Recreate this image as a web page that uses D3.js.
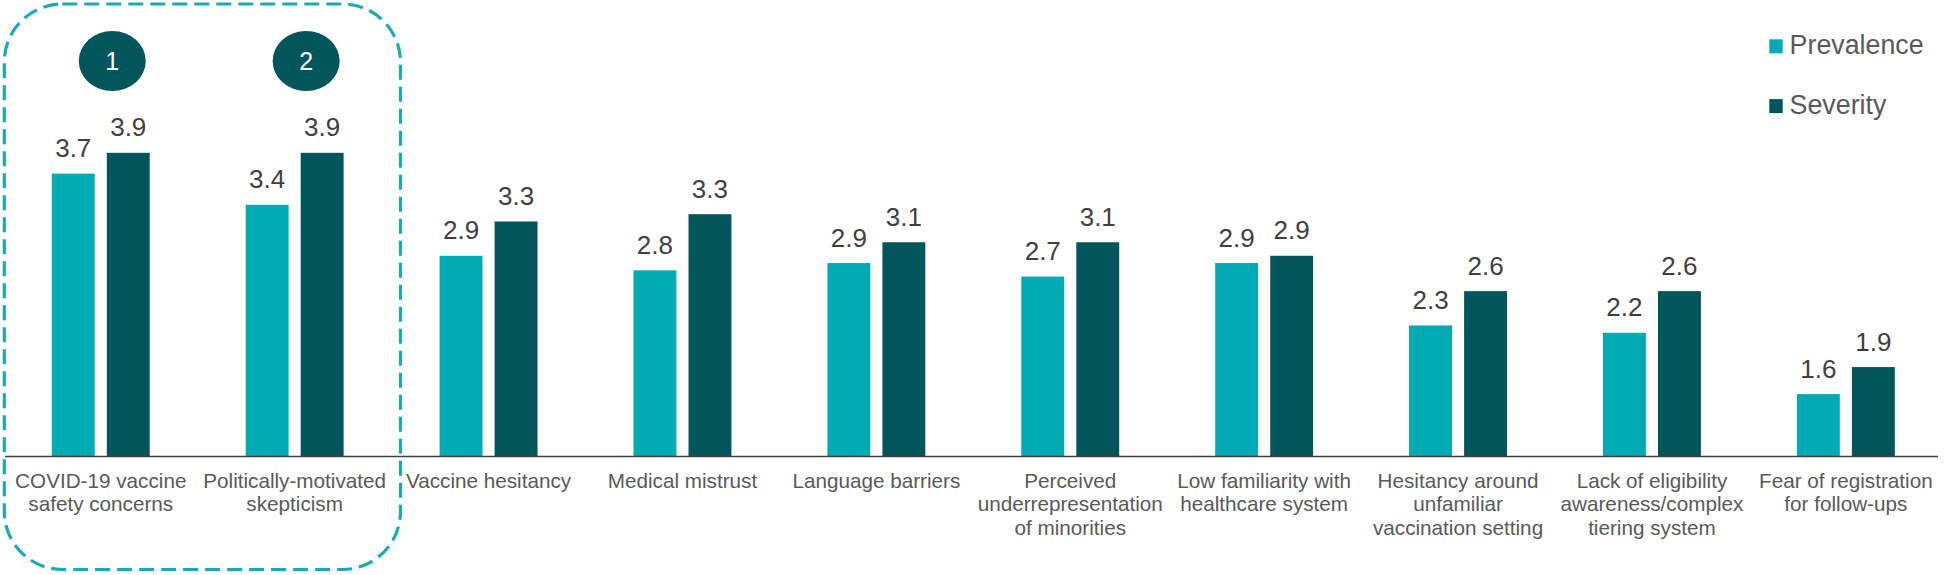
<!DOCTYPE html>
<html>
<head>
<meta charset="utf-8">
<script src="https://cdn.jsdelivr.net/npm/d3@7"></script>
<style>
  html, body { margin: 0; padding: 0; background: #fff; }
  svg { display: block; }
  text { font-family: "Liberation Sans", Arial, sans-serif; }
</style>
</head>
<body>
<svg id="chart" width="1944" height="575"></svg>
<script>
const categories = [
  ["COVID-19 vaccine", "safety concerns"],
  ["Politically-motivated", "skepticism"],
  ["Vaccine hesitancy"],
  ["Medical mistrust"],
  ["Language barriers"],
  ["Perceived", "underrepresentation", "of minorities"],
  ["Low familiarity with", "healthcare system"],
  ["Hesitancy around", "unfamiliar", "vaccination setting"],
  ["Lack of eligibility", "awareness/complex", "tiering system"],
  ["Fear of registration", "for follow-ups"]
];
const seriesNames = ["Prevalence", "Severity"];
const prevalence = [3.72, 3.42, 2.93, 2.79, 2.86, 2.73, 2.86, 2.26, 2.19, 1.60];
const severity   = [3.92, 3.92, 3.26, 3.33, 3.06, 3.06, 2.93, 2.59, 2.59, 1.86];
const highlighted = [0, 1];   // categories marked with numbered badges
const badgeLabels = ["1", "2"];

const colors = { Prevalence: "#00ABB3", Severity: "#02565B" };

const svg = d3.select("#chart");
const baseY = 456.5;

const x0 = d3.scaleBand()
  .domain(d3.range(categories.length))
  .range([3.8, 1942.8])
  .paddingInner(0.495)
  .paddingOuter(0.2475);

const x1 = d3.scaleBand()
  .domain(seriesNames)
  .range([0, x0.bandwidth()])
  .paddingInner(0.22);

const y = d3.scaleLinear().domain([1, 5]).range([baseY, 40.5]);

const rows = categories.map((c, i) => ({
  i, lines: c,
  values: [
    { key: "Prevalence", v: prevalence[i] },
    { key: "Severity", v: severity[i] }
  ]
}));

// Dashed highlight box
svg.append("rect")
  .attr("x", 4.3).attr("y", 4).attr("width", 396.2).attr("height", 565.5)
  .attr("rx", 58).attr("ry", 58)
  .attr("fill", "none")
  .attr("stroke", "#1AAAB3")
  .attr("stroke-width", 3.2)
  .attr("stroke-dasharray", "15,7");

// Bars
const g = svg.append("g").selectAll("g").data(rows).join("g")
  .attr("transform", d => `translate(${x0(d.i)},0)`);

g.selectAll("rect").data(d => d.values).join("rect")
  .attr("x", d => x1(d.key))
  .attr("y", d => y(d.v))
  .attr("width", x1.bandwidth())
  .attr("height", d => baseY - y(d.v))
  .attr("fill", d => colors[d.key]);

const fmt = d3.format(".1f");
g.selectAll("text.val").data(d => d.values).join("text")
  .attr("class", "val")
  .attr("x", d => x1(d.key) + x1.bandwidth() / 2)
  .attr("y", d => y(d.v) - 16.5)
  .attr("text-anchor", "middle")
  .attr("font-size", 26)
  .attr("fill", "#3F3F3F")
  .text(d => fmt(d.v));

// Axis baseline
svg.append("line")
  .attr("x1", 5).attr("x2", 1938)
  .attr("y1", baseY).attr("y2", baseY)
  .attr("stroke", "#404040").attr("stroke-width", 1.6);

// Category labels
const lab = svg.append("g").selectAll("text").data(rows).join("text")
  .attr("text-anchor", "middle")
  .attr("font-size", 20.7)
  .attr("fill", "#595959");
lab.each(function(d) {
  const cx = x0(d.i) + x0.bandwidth() / 2;
  d3.select(this).selectAll("tspan").data(d.lines).join("tspan")
    .attr("x", cx)
    .attr("y", (l, k) => 487.5 + k * 23.5)
    .text(l => l);
});

// Numbered badges
const badges = svg.append("g").selectAll("g").data(highlighted).join("g")
  .attr("transform", d => `translate(${x0(d) + x0.bandwidth() / 2 + 11.5},61)`);
badges.append("ellipse")
  .attr("rx", 33.5).attr("ry", 30)
  .attr("fill", "#02565B");
badges.append("text")
  .attr("text-anchor", "middle")
  .attr("y", 9)
  .attr("font-size", 25)
  .attr("fill", "#fff")
  .text((d, k) => badgeLabels[k]);

// Legend
const leg = svg.append("g").selectAll("g").data(seriesNames).join("g")
  .attr("transform", (d, k) => `translate(1769.3,${39.3 + k * 59.8})`);
leg.append("rect")
  .attr("width", 13.4).attr("height", 14)
  .attr("fill", d => colors[d]);
leg.append("text")
  .attr("x", 20.3).attr("y", 15)
  .attr("font-size", 26.8)
  .attr("fill", "#595959")
  .text(d => d);
</script>
</body>
</html>
